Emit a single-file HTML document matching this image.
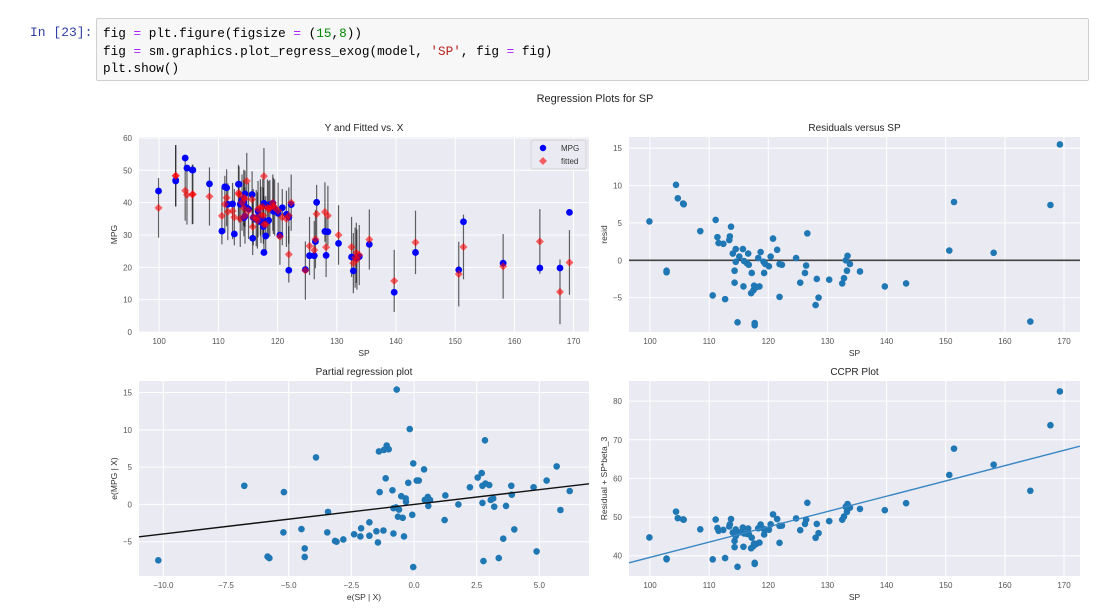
<!DOCTYPE html>
<html><head><meta charset="utf-8">
<style>
html,body{margin:0;padding:0;background:#fff;}
body{width:1099px;height:612px;position:relative;overflow:hidden;font-family:"Liberation Sans",sans-serif;}
.prompt{position:absolute;left:30px;top:25px;font:13px "Liberation Mono",monospace;color:#303F9F;}
.cell{position:absolute;left:96px;top:18px;width:993px;height:63px;background:#f7f7f7;border:1px solid #cfcfcf;border-radius:2px;box-sizing:border-box;}
.code{position:absolute;left:6px;top:6px;font:12.7px/17.5px "Liberation Mono",monospace;color:#000;white-space:pre;}
.o{color:#aa22ff}.n{color:#008800}.s{color:#ba2121}
svg{position:absolute;left:0;top:0;}
</style></head><body>
<div class="prompt">In [23]:</div>
<div class="cell"><div class="code">fig <span class="o">=</span> plt.figure(figsize <span class="o">=</span> (<span class="n">15</span>,<span class="n">8</span>))
fig <span class="o">=</span> sm.graphics.plot_regress_exog(model, <span class="s">'SP'</span>, fig <span class="o">=</span> fig)
plt.show()</div></div>
<svg id="fig" width="1099" height="612"></svg>
<script>
const sp=[99.9,102.8,102.8,104.4,104.7,105.6,105.7,108.5,110.6,111.1,111.4,111.6,112.4,112.7,113.4,113.5,113.7,114.0,114.3,114.3,114.5,114.5,114.8,115.1,115.7,115.8,115.9,116.4,116.6,116.7,117.1,117.2,117.5,117.6,117.7,117.7,118.0,118.3,118.5,118.7,119.2,119.3,119.5,120.1,120.4,120.8,121.5,121.9,121.9,122.3,124.7,125.4,126.2,126.4,126.6,128.0,128.2,128.5,130.3,132.5,132.8,133.1,133.3,133.4,133.8,135.5,139.7,143.3,150.6,151.4,158.1,164.3,167.7,169.3];
const resid=[5.2,-1.4,-1.6,10.1,8.3,7.6,7.5,3.9,-4.7,5.4,3.1,2.3,2.2,-5.2,2.7,3.2,4.5,0.9,-1.4,-3.0,1.5,-0.2,-8.3,0.5,1.5,-3.5,-0.1,-0.4,0.9,-0.6,-4.4,-1.7,-4.0,-3.4,-8.4,-8.7,-3.6,0.3,-3.5,1.1,-0.2,-1.7,-0.5,-0.8,0.5,2.9,1.4,-0.5,-4.9,-0.6,0.3,-3.0,-1.7,-0.7,3.6,-6.0,-2.5,-5.0,-2.6,-3.1,-2.4,0.0,-1.4,0.6,-0.5,-1.5,-3.5,-3.1,1.3,7.8,1.0,-8.2,7.4,15.5];
const fitted=[38.4,48.3,48.3,43.7,42.4,42.5,42.6,41.9,35.9,39.5,41.5,37.2,37.4,35.5,43,42.5,35,40,41.5,38.3,41.2,36,46.7,37.5,41,32.5,35.5,35.2,34.5,38,38.5,36.2,38.7,36,48.2,33.3,33.3,38.5,38,38.3,40,39,38.5,37.5,29.5,35.5,35,36,24,40,19,26.6,25.3,28.7,36.5,37.1,26.2,36,30,26.3,21.3,23,24.5,22.4,23.8,28.6,15.8,27.7,17.9,26.3,20.3,28,12.4,21.5];
const predHalf=[9.2,9.5,9.5,9.3,9.2,9.2,9.2,9,8.8,8.8,8.8,8.8,8.7,8.7,8.7,8.7,8.7,8.7,8.7,8.7,8.7,8.7,8.7,8.7,8.7,8.7,8.7,8.7,8.7,8.7,8.7,8.7,8.7,8.7,8.7,8.7,8.7,8.7,8.7,8.7,8.7,8.7,8.7,8.7,8.7,8.7,8.7,8.7,8.7,8.7,9,9,9,9,9,9.2,9.2,9.2,9.2,9.3,9.3,9.3,9.3,9.3,9.3,9.3,9.6,9.8,10,10,10,10,10,10];
const ex=[-10.2,-6.77,-5.84,-5.77,-5.21,-5.19,-4.49,-4.36,-4.36,-3.91,-3.43,-3.46,-3.15,-3.09,-2.82,-2.39,-2.11,-2.14,-1.78,-1.78,-1.5,-1.44,-1.4,-1.37,-1.22,-1.2,-1.13,-1.09,-1.01,-0.86,-0.82,-0.82,-0.72,-0.69,-0.64,-0.6,-0.51,-0.45,-0.4,-0.33,-0.32,-0.23,-0.17,-0.07,-0.03,-0.03,0.11,0.19,0.4,0.43,0.55,0.56,0.57,0.64,1.22,1.25,1.77,2.23,2.54,2.7,2.73,2.73,2.77,2.83,2.85,3.0,3.06,3.16,3.2,3.38,3.56,3.67,3.88,3.9,4.0,4.77,4.89,5.29,5.69,5.84,6.21];
const ey=[-7.5,2.5,-7.0,-7.2,-3.75,1.65,-3.3,-5.9,-7.05,6.3,-1.0,-3.75,-4.9,-5.0,-4.7,-4.0,-3.2,-4.3,-2.4,-4.2,-3.6,-5.1,7.1,1.65,-3.5,7.3,3.5,7.9,7.4,1.9,-3.9,-0.5,-0.4,15.4,-1.65,-0.7,1.1,-1.8,-4.3,0.8,0.35,2.9,10.1,-1.4,5.5,-8.4,3.2,3.2,4.7,0.6,1.0,0.7,-0.2,0.6,-2.1,1.2,0.0,2.3,3.6,4.2,2.5,0.2,-7.6,8.6,2.8,2.6,0.6,0.8,-0.3,-7.2,-4.6,-0.2,2.5,1.3,-3.35,2.3,-6.3,3.2,5.1,-0.75,1.8];
const beta=0.3957;
const spTicks=[100,110,120,130,140,150,160,170];
const mpgTicks=[0,10,20,30,40,50,60];
const residTicks=[-5,0,5,10,15];
const exTicks=[-10,-7.5,-5,-2.5,0,2.5,5];
const ccprTicks=[40,50,60,70,80];

const svg=document.getElementById('fig');
const NS='http://www.w3.org/2000/svg';
function el(t,a,p){const e=document.createElementNS(NS,t);for(const k in a)e.setAttribute(k,a[k]);(p||svg).appendChild(e);return e;}
function txt(s,a,p){const e=el('text',a,p);e.textContent=s;return e;}

const title=txt('Regression Plots for SP',{x:595,y:102,'text-anchor':'middle','font-size':11,fill:'#262626'});



function axes(name,x0,y0,x1,y1,xd,yd,xt,yt,ttl,xl,yl,fmt){
  const g=el('g',{});
  
  
  const sx=v=>x0+(v-xd[0])/(xd[1]-xd[0])*(x1-x0);
  const sy=v=>y1-(v-yd[0])/(yd[1]-yd[0])*(y1-y0);
  const bg=el('rect',{x:x0,y:y0,width:x1-x0,height:y1-y0,fill:'#eaeaf2'},g);
  
  
  xt.forEach(v=>{const X=sx(v);el('line',{x1:X,x2:X,y1:y0,y2:y1,stroke:'#fff','stroke-width':1},g);
    const t=txt(fmt?v.toFixed(1).replace('-','\u2212'):String(v).replace('-','\u2212'),{x:X,y:y1+12,'text-anchor':'middle','font-size':8,fill:'#555'},g);
    
    });
  yt.forEach(v=>{const Y=sy(v);el('line',{x1:x0,x2:x1,y1:Y,y2:Y,stroke:'#fff','stroke-width':1},g);
    const t=txt(String(v).replace('-','\u2212'),{x:x0-7,y:Y+3,'text-anchor':'end','font-size':8,fill:'#555'},g);
    
    });
  const t1=txt(ttl,{x:(x0+x1)/2,y:y0-6,'text-anchor':'middle','font-size':10,fill:'#262626'},g);
  
  
  const t2=txt(xl,{x:(x0+x1)/2,y:y1+24,'text-anchor':'middle','font-size':8.5,fill:'#333'},g);
  
  
  const yx=x0-22,yy=(y0+y1)/2;
  const t3=txt(yl,{x:yx,y:yy,'text-anchor':'middle','font-size':8.5,fill:'#333',transform:`rotate(-90 ${yx} ${yy})`},g);
  
  
  const clip='c'+name;const cp=el('clipPath',{id:clip},g);el('rect',{x:x0,y:y0,width:x1-x0,height:y1-y0},cp);
  const marks=el('g',{'clip-path':`url(#${clip})`},g);
  return {sx,sy,g:marks};
}

// Axes 1
const A1=axes('y-fitted-vs-x',139,137,589,332,[96.6,172.6],[0,60.3],spTicks,mpgTicks,'Y and Fitted vs. X','SP','MPG');
sp.forEach((v,i)=>{const X=A1.sx(v);const l=el('line',{x1:X,x2:X,y1:A1.sy(fitted[i]-predHalf[i]),y2:A1.sy(fitted[i]+predHalf[i]),stroke:'#000','stroke-opacity':0.6,'stroke-width':1.2},A1.g);
  
  });
sp.forEach((v,i)=>{const c=el('circle',{cx:A1.sx(v),cy:A1.sy(fitted[i]+resid[i]),r:3.4,fill:'#0000ff'},A1.g);
  
  });
sp.forEach((v,i)=>{const X=A1.sx(v),Y=A1.sy(fitted[i]);const d=el('path',{d:`M${X} ${Y-4}L${X+4} ${Y}L${X} ${Y+4}L${X-4} ${Y}Z`,fill:'#ff0000','fill-opacity':0.6},A1.g);
  
  });
const lg=el('g',{});


el('rect',{x:531,y:140,width:55,height:29,fill:'#eaeaf2',stroke:'#ccc','stroke-width':0.7,rx:2},lg);
el('circle',{cx:543,cy:148,r:3.2,fill:'#0000ff'},lg);
el('path',{d:'M543 157L547 161L543 165L539 161Z',fill:'#ff0000','fill-opacity':0.6},lg);
const le1=txt('MPG',{x:561,y:151,'font-size':8,fill:'#333'},lg);


const le2=txt('fitted',{x:561,y:164,'font-size':8,fill:'#333'},lg);



// Axes 2
const A2=axes('residuals-vs-sp',629,137,1080,332,[96.45,172.7],[-9.6,16.5],spTicks,residTicks,'Residuals versus SP','SP','resid');
const z=el('line',{x1:629,x2:1080,y1:A2.sy(0),y2:A2.sy(0),stroke:'#222','stroke-width':1.6,'stroke-opacity':0.85},A2.g);


sp.forEach((v,i)=>{const c=el('circle',{cx:A2.sx(v),cy:A2.sy(resid[i]),r:3.3,fill:'#1f77b4'},A2.g);
  
  });

// Axes 3
const A3=axes('partial-regression',139,381,589,576,[-10.97,6.98],[-9.6,16.55],exTicks,residTicks,'Partial regression plot','e(SP | X)','e(MPG | X)',true);
ex.forEach((v,i)=>{const c=el('circle',{cx:A3.sx(v),cy:A3.sy(ey[i]),r:3.3,fill:'#1f77b4'},A3.g);
  
  });
const pl=el('line',{x1:A3.sx(-10.97),y1:A3.sy(-10.97*beta),x2:A3.sx(6.98),y2:A3.sy(6.98*beta),stroke:'#111','stroke-width':1.4},A3.g);



// Axes 4
const A4=axes('ccpr-plot',629,381,1080,576,[96.45,172.7],[34.76,85.2],spTicks,ccprTicks,'CCPR Plot','SP','Residual + SP*beta_3');
sp.forEach((v,i)=>{const c=el('circle',{cx:A4.sx(v),cy:A4.sy(resid[i]+beta*v),r:3.3,fill:'#1f77b4'},A4.g);
  
  });
const cl=el('line',{x1:A4.sx(96.45),y1:A4.sy(96.45*beta),x2:A4.sx(172.7),y2:A4.sy(172.7*beta),stroke:'#3a87c4','stroke-width':1.4},A4.g);


</script>
</body></html>
